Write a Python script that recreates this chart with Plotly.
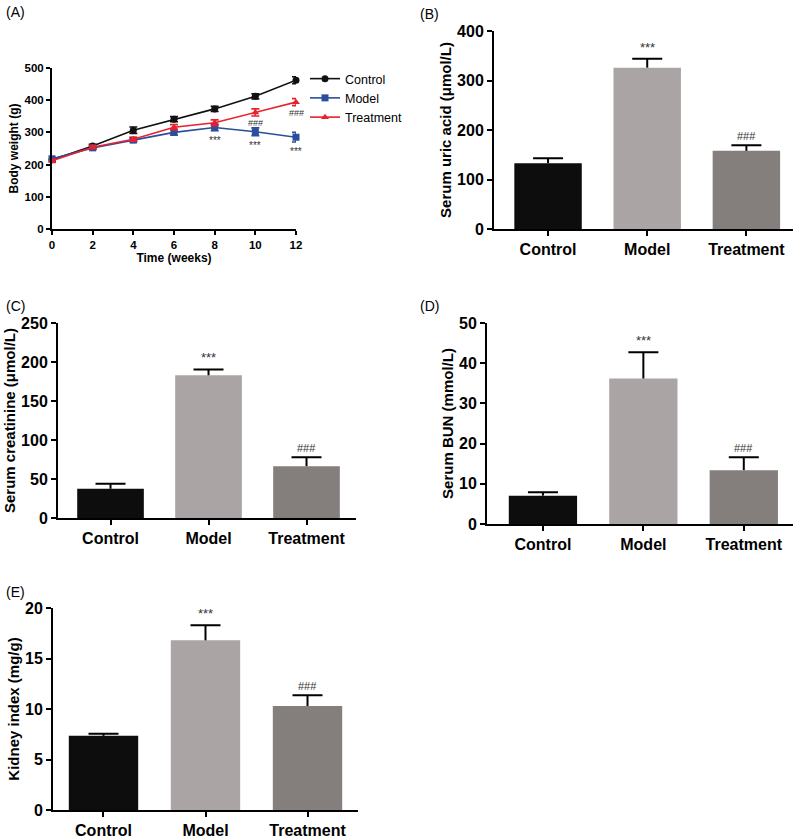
import plotly.graph_objects as go

# ---------------- data ----------------
weeks = [0, 2, 4, 6, 8, 10, 12]
bw_control = [215, 258, 307, 341, 373, 412, 462]
bw_control_err = [5, 5, 10, 8, 8, 8, 11]
bw_model = [218, 252, 276, 300, 315, 302, 285]
bw_model_err = [5, 5, 6, 8, 10, 12, 15]
bw_treat = [212, 254, 279, 316, 330, 362, 394]
bw_treat_err = [5, 5, 6, 8, 9, 11, 11]

groups = ["Control", "Model", "Treatment"]
uric_acid = [133, 326, 158]
uric_acid_err = [10, 18, 11]
creatinine = [37.5, 183, 66.5]
creatinine_err = [6.5, 7.5, 11.5]
bun = [7.05, 36.2, 13.4]
bun_err = [0.85, 6.5, 3.2]
kidney_index = [7.34, 16.8, 10.3]
kidney_index_err = [0.2, 1.5, 1.05]

bar_colors = ["#0d0d0d", "#aaa4a4", "#847e7d"]
W, H = 800, 838

fig = go.Figure()

def px_dom_x(a, b):
    return [a / W, b / W]

def px_dom_y(top, bottom):
    return [1 - bottom / H, 1 - top / H]

FONT = "Liberation Sans, Arial, sans-serif"

def axis_common(ticklen=5):
    return dict(showline=True, linecolor="black", linewidth=2, ticks="outside",
                ticklen=ticklen, tickwidth=2, tickcolor="black", showgrid=False,
                zeroline=False, mirror=False, automargin=False)

# ---------- panel A: line chart ----------
line_specs = [
    ("Control", bw_control, bw_control_err, "#111111", "circle", 7),
    ("Model", bw_model, bw_model_err, "#2a4d9c", "square", 7),
    ("Treatment", bw_treat, bw_treat_err, "#e8212e", "triangle-up", 7),
]
for name, ys, es, col, sym, sz in line_specs:
    fig.add_trace(go.Scatter(
        x=weeks, y=ys, name=name, mode="lines+markers",
        line=dict(color=col, width=1.6),
        marker=dict(symbol=sym, size=sz, color=col),
        error_y=dict(type="data", array=es, visible=True, color=col, thickness=1.6, width=4),
        xaxis="x", yaxis="y", cliponaxis=False, showlegend=True))

fig.update_layout(
    xaxis=dict(domain=px_dom_x(52, 296), anchor="y", range=[0, 12],
               tickvals=weeks, **axis_common(4),
               tickfont=dict(family=FONT, size=11.5, color="black", weight="bold"),
               title=dict(text="Time (weeks)", standoff=2,
                          font=dict(family=FONT, size=12, color="black", weight="bold"))),
    yaxis=dict(domain=px_dom_y(68, 229), anchor="x", range=[0, 500],
               tickvals=[0, 100, 200, 300, 400, 500], **axis_common(4),
               tickfont=dict(family=FONT, size=11.5, color="black", weight="bold"),
               title=dict(text="Body weight (g)", standoff=3,
                          font=dict(family=FONT, size=12, color="black", weight="bold"))),
)

annotations = []
# significance markers panel A
for i in [4, 5, 6]:
    annotations.append(dict(x=weeks[i], y=bw_model[i] - bw_model_err[i], xref="x", yref="y",
                            text="***", showarrow=False, yanchor="top", yshift=-2,
                            font=dict(family=FONT, size=10, color="#333333")))
for i in [5, 6]:
    annotations.append(dict(x=weeks[i], y=bw_treat[i] - bw_treat_err[i], xref="x", yref="y",
                            text="###", showarrow=False, yanchor="top", yshift=0,
                            font=dict(family=FONT, size=9, color="#333333")))

# ---------- bar panels ----------
bar_panels = [
    (2, uric_acid, uric_acid_err, "Serum uric acid (μmol/L)", [0, 400], 100,
     (494, 793), (31, 229), [-0.545, 2.47], "(B)", (418, 14)),
    (3, creatinine, creatinine_err, "Serum creatinine (μmol/L)", [0, 250], 50,
     (58, 356), (323, 518), [-0.536, 2.505], "(C)", (4, 306)),
    (4, bun, bun_err, "Serum BUN (mmol/L)", [0, 50], 10,
     (487, 793), (323, 524), [-0.557, 2.49], "(D)", (418, 306)),
    (5, kidney_index, kidney_index_err, "Kidney index (mg/g)", [0, 20], 5,
     (53, 358), (608, 810), [-0.495, 2.495], "(E)", (4, 592)),
]

for idx, vals, errs, ytitle, yr, dt, xpx, ypx, xr, lab, lpos in bar_panels:
    xa, ya = f"x{idx}", f"y{idx}"
    fig.add_trace(go.Bar(
        x=groups, y=vals, marker=dict(color=bar_colors, line=dict(width=0)),
        width=0.68, showlegend=False, xaxis=xa, yaxis=ya))
    # vertical stem of the error bar (no caps)
    fig.add_trace(go.Scatter(
        x=groups, y=vals, mode="markers", marker=dict(size=1, opacity=0),
        showlegend=False, xaxis=xa, yaxis=ya, hoverinfo="skip",
        error_y=dict(type="data", array=errs, arrayminus=[0] * len(errs), symmetric=False,
                     visible=True, color="black", thickness=2, width=0)))
    # cap at the top of the error bar
    tops = [v + e for v, e in zip(vals, errs)]
    fig.add_trace(go.Scatter(
        x=groups, y=tops, mode="markers", marker=dict(size=1, opacity=0),
        showlegend=False, xaxis=xa, yaxis=ya, hoverinfo="skip",
        error_y=dict(type="data", array=[0] * len(errs), arrayminus=[0] * len(errs),
                     symmetric=False, visible=True, color="black", thickness=2, width=15)))
    fig.update_layout(**{
        f"xaxis{idx}": dict(domain=px_dom_x(*xpx), anchor=ya, type="category",
                            range=xr, **axis_common(5),
                            tickfont=dict(family=FONT, size=16, color="black", weight="bold")),
        f"yaxis{idx}": dict(domain=px_dom_y(*ypx), anchor=xa, range=yr, dtick=dt,
                            **axis_common(5),
                            tickfont=dict(family=FONT, size=16, color="black", weight="bold"),
                            title=dict(text=ytitle, standoff=2,
                                       font=dict(family=FONT, size=15, color="black", weight="bold"))),
    })
    annotations.append(dict(x=groups[1], y=tops[1], xref=xa, yref=ya, text="***",
                            showarrow=False, yanchor="bottom", yshift=2,
                            font=dict(family=FONT, size=13, color="#333333")))
    annotations.append(dict(x=groups[2], y=tops[2], xref=xa, yref=ya, text="###",
                            showarrow=False, yanchor="bottom", yshift=1,
                            font=dict(family=FONT, size=11, color="#333333")))
    annotations.append(dict(x=lpos[0] / W, y=1 - lpos[1] / H, xref="paper", yref="paper",
                            text=lab, showarrow=False, xanchor="left", yanchor="middle",
                            font=dict(family=FONT, size=14, color="black")))

annotations.append(dict(x=4 / W, y=1 - 12 / H, xref="paper", yref="paper", text="(A)",
                        showarrow=False, xanchor="left", yanchor="middle",
                        font=dict(family=FONT, size=14, color="black")))

fig.update_layout(
    width=W, height=H, margin=dict(l=0, r=0, t=0, b=0, autoexpand=False),
    paper_bgcolor="white", plot_bgcolor="white",
    annotations=annotations,
    legend=dict(x=305 / W, y=1 - 64 / H, xanchor="left", yanchor="top",
                font=dict(family=FONT, size=12.5, color="black"),
                bgcolor="rgba(0,0,0,0)", tracegroupgap=0, itemwidth=30),
)

fig.write_html("out.html", config={"displayModeBar": False},
               post_script="document.body.style.margin='0px';document.body.style.overflow='hidden';")
